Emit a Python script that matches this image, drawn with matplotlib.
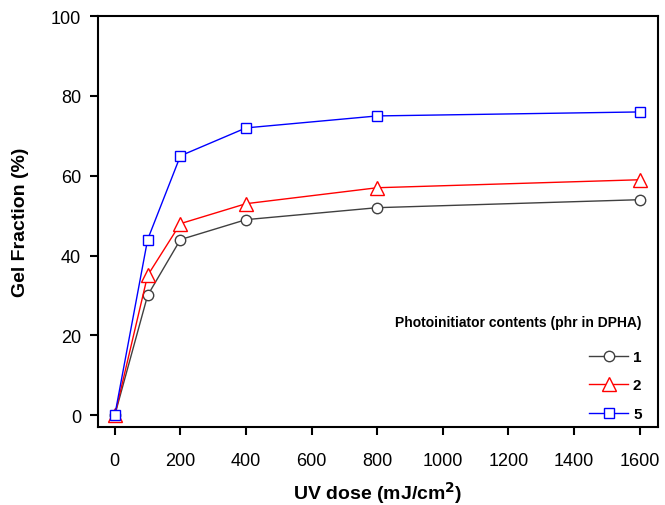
import matplotlib
matplotlib.use("Agg")
import matplotlib.pyplot as plt

plt.rcParams['font.family'] = ['Liberation Sans', 'DejaVu Sans']

# UV dose (mJ/cm2) and gel fraction (%) for each photoinitiator content
dose = [0, 100, 200, 400, 800, 1600]
gel_1 = [0, 30, 44, 49, 52, 54]
gel_2 = [0, 35, 48, 53, 57, 59]
gel_5 = [0, 44, 65, 72, 75, 76]
labels = ['1', '2', '5']
xticks = [0, 200, 400, 600, 800, 1000, 1200, 1400, 1600]
yticks = [0, 20, 40, 60, 80, 100]

fig = plt.figure(figsize=(6.65, 5.06), dpi=100)
ax = fig.add_axes([0.147, 0.154, 0.842, 0.812])

ax.plot(dose, gel_1, color='#404040', marker='o', markersize=7.5,
        markerfacecolor='white', lw=1, label=labels[0])
ax.plot(dose, gel_2, color='red', marker='^', markersize=9.5,
        markerfacecolor='white', lw=1, label=labels[1])
ax.plot(dose, gel_5, color='blue', marker='s', markersize=7.5,
        markerfacecolor='white', lw=1, label=labels[2])

ax.set_xlim(-52, 1655)
ax.set_ylim(-3, 100)
ax.set_xticks(xticks)
ax.set_yticks(yticks)
ax.tick_params(direction='out', length=6, width=1.5, labelsize=13, pad=6)
ax.tick_params(axis='x', pad=12)
for s in ax.spines.values():
    s.set_linewidth(1.5)

ax.set_xlabel('UV dose (mJ/cm$^\\mathbf{2}$)', fontsize=14, fontweight='bold', labelpad=7)
ax.set_ylabel('Gel Fraction (%)', fontsize=14, fontweight='bold', labelpad=16)

leg = ax.legend(title='Photoinitiator contents (phr in DPHA)', frameon=False,
                loc='lower right', bbox_to_anchor=(0.982, 0.0), fontsize=11,
                title_fontproperties={'weight': 'bold', 'size': 10},
                alignment='right', handlelength=2.6, handletextpad=0.3,
                labelspacing=0.95, borderaxespad=0.0)
for t in leg.get_texts():
    t.set_fontweight('bold')
leg._legend_box.sep = 15

fig.savefig('out.png', dpi=100)
